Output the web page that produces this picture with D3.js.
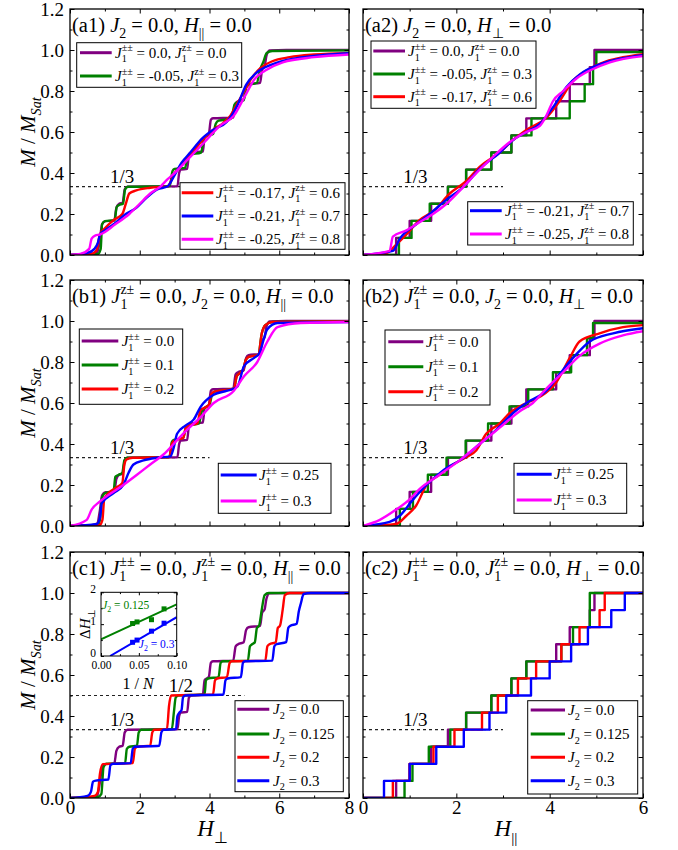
<!DOCTYPE html>
<html>
<head>
<meta charset="utf-8">
<script src="https://cdn.jsdelivr.net/npm/d3@7"></script>
<style>
  body { margin: 0; background: #fff; }
  svg text { font-family: "Liberation Serif", "Times New Roman", serif; white-space: pre; }
</style>
</head>
<body>
<svg id="chart" width="678" height="850"></svg>
<script>
// ---------- tick values ----------
const yMajor = [0, 0.2, 0.4, 0.6, 0.8, 1.0, 1.2];
const yMinor = [0.1, 0.3, 0.5, 0.7, 0.9, 1.1];
const xMajorPerp = [0, 2, 4, 6, 8];
const xMinorPerp = [1, 3, 5, 7];
const xMajorPar = [0, 2, 4, 6];
const xMinorPar = [1, 3, 5];
const plateauThird = 1 / 3;
const plateauHalf = 1 / 2;

// ---------- legend labels ----------
const legendA = [["0.0", "0.0"], ["-0.05", "0.3"], ["-0.17", "0.6"], ["-0.21", "0.7"], ["-0.25", "0.8"]];
const legendB = ["0.0", "0.1", "0.2", "0.25", "0.3"];
const legendC = ["0.0", "0.125", "0.2", "0.3"];

// ---------- magnetization curves [H, M/Msat] ----------
// field perpendicular, all extra couplings zero (purple in a1, b1, c1)
const perpZero = [[0,0],[0.6,0.004],[0.78,0.012],[0.86,0.08],[0.92,0.15],[1.02,0.165],[1.27,0.168],[1.33,0.23],[1.41,0.25],[1.51,0.255],[1.57,0.32],[1.65,0.333],[3.08,0.335],[3.13,0.4],[3.18,0.417],[3.36,0.42],[3.41,0.49],[3.47,0.5],[3.81,0.505],[3.86,0.575],[3.92,0.583],[3.98,0.59],[4.04,0.66],[4.1,0.667],[4.68,0.67],[4.75,0.74],[4.82,0.75],[4.98,0.76],[5.05,0.82],[5.12,0.833],[5.45,0.84],[5.51,0.905],[5.58,0.92],[5.63,0.97],[5.72,0.998],[6.2,1],[8,1]];
// field parallel, all extra couplings zero (purple in a2, b2, c2) : [field of step, new plateau]
const parZero = [[0,0],[0.71,0.0833],[1.0,0.1667],[1.46,0.25],[1.82,0.3333],[2.21,0.4167],[2.75,0.5],[3.18,0.5833],[3.5,0.6667],[4.14,0.75],[4.43,0.8333],[4.86,0.9167],[4.96,1],[6,1]];

// (a1)
const a1Green = [[0,0],[0.8,0.005],[0.88,0.03],[0.92,0.15],[1.0,0.165],[1.28,0.17],[1.34,0.235],[1.42,0.245],[1.52,0.25],[1.58,0.32],[1.66,0.333],[2.86,0.336],[2.94,0.41],[3.0,0.42],[3.3,0.425],[3.37,0.48],[3.44,0.49],[3.76,0.5],[3.84,0.57],[3.92,0.58],[4.1,0.59],[4.18,0.64],[4.26,0.655],[4.62,0.665],[4.72,0.735],[4.8,0.745],[4.98,0.755],[5.06,0.82],[5.14,0.83],[5.36,0.84],[5.44,0.9],[5.54,0.94],[5.64,0.985],[5.8,0.995],[8,0.998]];
const a1Red = [[0,0],[0.6,0.005],[0.75,0.02],[0.86,0.1],[1.0,0.13],[1.25,0.17],[1.5,0.2],[1.6,0.25],[1.7,0.3],[1.9,0.315],[2.3,0.328],[2.8,0.335],[3.0,0.4],[3.15,0.43],[3.4,0.48],[3.6,0.52],[3.85,0.57],[4.1,0.61],[4.4,0.645],[4.6,0.68],[4.8,0.74],[5.0,0.8],[5.2,0.86],[5.45,0.91],[5.8,0.945],[6.3,0.965],[7,0.978],[8,0.985]];
const a1Blue = [[0,0],[0.5,0.01],[0.7,0.03],[0.8,0.06],[0.86,0.1],[1.0,0.12],[1.25,0.15],[1.6,0.2],[1.9,0.23],[2.2,0.28],[2.5,0.32],[2.8,0.335],[3.0,0.39],[3.2,0.45],[3.45,0.5],[3.8,0.57],[4.1,0.61],[4.5,0.65],[4.8,0.73],[5.05,0.83],[5.35,0.89],[5.8,0.93],[6.5,0.96],[7.2,0.975],[8,0.985]];
const a1Magenta = [[0,0],[0.3,0.005],[0.55,0.03],[0.62,0.08],[0.72,0.095],[0.86,0.1],[1.3,0.15],[1.7,0.2],[2.0,0.25],[2.3,0.3],[2.6,0.335],[2.8,0.37],[3.0,0.4],[3.4,0.47],[3.85,0.55],[4.3,0.63],[4.7,0.68],[5.0,0.77],[5.3,0.86],[5.6,0.9],[6.1,0.94],[7,0.965],[8,0.978]];

// (a2)
const a2Green = [[0,0],[0.77,0.0833],[1.04,0.1667],[1.43,0.25],[1.82,0.3333],[2.21,0.4167],[2.75,0.5],[3.18,0.5833],[3.61,0.6667],[4.43,0.75],[4.75,0.8333],[4.93,0.9167],[5.0,0.99],[6,0.99]];
const a2Red = [[0,0],[0.5,0.01],[0.71,0.05],[0.93,0.1],[1.21,0.17],[1.54,0.22],[1.86,0.3],[2.21,0.36],[2.5,0.43],[2.93,0.5],[3.21,0.56],[3.5,0.61],[3.93,0.67],[4.21,0.75],[4.5,0.85],[4.79,0.9],[5.21,0.945],[5.57,0.965],[6,0.98]];
const a2Blue = [[0,0],[0.64,0.02],[0.79,0.08],[1.14,0.15],[1.43,0.2],[1.79,0.27],[2.14,0.33],[2.5,0.42],[2.93,0.5],[3.21,0.56],[3.5,0.6],[3.79,0.64],[4.07,0.72],[4.36,0.82],[4.64,0.88],[5.07,0.93],[5.57,0.96],[6,0.975]];
const a2Magenta = [[0,0],[0.57,0.02],[0.64,0.09],[0.93,0.12],[1.21,0.16],[1.5,0.2],[1.79,0.25],[2.14,0.33],[2.43,0.4],[2.79,0.48],[3.14,0.55],[3.5,0.6],[3.79,0.63],[3.93,0.68],[4.07,0.75],[4.29,0.8],[4.57,0.86],[4.86,0.9],[5.29,0.94],[6,0.97]];

// (b1)
const b1Green = [[0,0],[0.8,0.005],[0.86,0.03],[0.92,0.14],[1.0,0.16],[1.25,0.17],[1.3,0.24],[1.4,0.25],[1.5,0.26],[1.56,0.32],[1.64,0.333],[2.85,0.336],[2.92,0.41],[2.98,0.42],[3.25,0.43],[3.32,0.48],[3.4,0.49],[3.7,0.5],[3.78,0.56],[3.86,0.575],[4.0,0.59],[4.07,0.64],[4.15,0.655],[4.7,0.67],[4.78,0.73],[4.86,0.745],[4.96,0.76],[5.04,0.81],[5.12,0.825],[5.4,0.835],[5.5,0.94],[5.6,0.98],[5.8,0.995],[8,0.998]];
const b1Red = [[0,0],[0.85,0.005],[0.93,0.03],[0.98,0.13],[1.1,0.16],[1.35,0.19],[1.5,0.21],[1.56,0.3],[1.62,0.325],[1.8,0.333],[2.85,0.336],[2.92,0.4],[2.98,0.415],[3.25,0.43],[3.32,0.48],[3.4,0.49],[3.65,0.5],[3.74,0.565],[3.84,0.575],[3.98,0.59],[4.06,0.645],[4.14,0.655],[4.7,0.67],[4.78,0.73],[4.86,0.745],[4.96,0.76],[5.04,0.81],[5.12,0.825],[5.4,0.835],[5.5,0.94],[5.6,0.98],[5.8,0.995],[8,0.998]];
const b1Blue = [[0,0],[0.77,0.01],[0.86,0.04],[0.91,0.11],[1.25,0.16],[1.53,0.2],[1.68,0.26],[1.82,0.3],[2.11,0.32],[2.49,0.333],[2.88,0.34],[2.97,0.38],[3.07,0.45],[3.31,0.49],[3.55,0.52],[3.74,0.58],[4.12,0.64],[4.51,0.66],[4.8,0.68],[4.99,0.78],[5.28,0.82],[5.42,0.84],[5.66,0.96],[5.95,0.99],[8,0.995]];
const b1Magenta = [[0,0],[0.48,0.03],[0.62,0.08],[0.86,0.12],[1.53,0.2],[1.92,0.25],[2.3,0.3],[2.69,0.35],[2.97,0.4],[3.36,0.47],[3.74,0.53],[4.12,0.6],[4.7,0.66],[4.99,0.73],[5.37,0.8],[5.66,0.9],[5.95,0.97],[6.62,0.99],[8,0.995]];

// (b2)
const b2Green = [[0,0],[0.79,0.0833],[1.07,0.1667],[1.39,0.25],[1.79,0.3333],[2.2,0.4167],[2.68,0.5],[3.14,0.5833],[3.54,0.6667],[4.07,0.75],[4.46,0.8333],[4.8,0.9167],[4.93,0.99],[6,0.99]];
const b2Red = [[0,0],[0.71,0.01],[0.93,0.05],[1.14,0.1],[1.36,0.2],[1.64,0.25],[1.93,0.3],[2.21,0.335],[2.43,0.37],[2.64,0.45],[2.93,0.5],[3.14,0.55],[3.5,0.6],[3.79,0.63],[4.14,0.7],[4.43,0.82],[4.64,0.9],[5.07,0.94],[5.57,0.97],[6,0.98]];
const b2Blue = [[0,0],[0.57,0.02],[0.79,0.05],[1.04,0.12],[1.36,0.2],[1.71,0.27],[2.14,0.33],[2.5,0.4],[2.86,0.47],[3.21,0.55],[3.5,0.6],[3.93,0.66],[4.21,0.74],[4.5,0.82],[4.86,0.9],[5.36,0.94],[6,0.965]];
const b2Magenta = [[0,0],[0.36,0.03],[0.71,0.08],[1.0,0.13],[1.21,0.18],[1.64,0.25],[2.07,0.32],[2.5,0.4],[2.93,0.48],[3.36,0.56],[3.64,0.6],[3.93,0.67],[4.29,0.75],[4.64,0.83],[5.07,0.89],[5.57,0.93],[6,0.95]];

// (c1)
const c1Green = [[0,0],[0.8,0.005],[0.9,0.02],[0.96,0.15],[1.04,0.167],[1.58,0.17],[1.63,0.24],[1.7,0.25],[1.92,0.255],[1.97,0.32],[2.04,0.333],[2.92,0.336],[2.98,0.42],[3.03,0.49],[3.1,0.5],[3.86,0.505],[3.9,0.575],[3.96,0.583],[4.26,0.59],[4.32,0.66],[4.38,0.667],[5.1,0.67],[5.16,0.74],[5.22,0.75],[5.3,0.76],[5.36,0.83],[5.42,0.84],[5.5,0.92],[5.58,0.99],[5.7,1],[8,1]];
const c1Red = [[0,0],[0.7,0.01],[0.8,0.03],[0.86,0.12],[0.94,0.165],[1.8,0.17],[1.86,0.24],[1.92,0.25],[2.3,0.255],[2.36,0.32],[2.42,0.333],[2.78,0.336],[2.84,0.45],[2.9,0.5],[4.1,0.505],[4.16,0.575],[4.22,0.583],[4.5,0.59],[4.58,0.66],[4.64,0.667],[5.6,0.67],[5.66,0.74],[5.72,0.75],[5.9,0.76],[5.96,0.83],[6.02,0.84],[6.1,0.92],[6.16,0.99],[6.3,1],[8,1]];
const c1Blue = [[0,0],[0.5,0.01],[0.6,0.03],[0.66,0.08],[0.74,0.085],[1.1,0.09],[1.16,0.16],[1.24,0.167],[1.74,0.17],[1.8,0.24],[1.86,0.25],[2.56,0.255],[2.62,0.32],[2.68,0.333],[3.04,0.336],[3.08,0.4],[3.14,0.417],[3.2,0.43],[3.24,0.49],[3.3,0.5],[4.4,0.505],[4.46,0.575],[4.52,0.583],[4.9,0.59],[4.96,0.66],[5.02,0.667],[5.8,0.67],[5.86,0.74],[5.92,0.75],[6.2,0.76],[6.26,0.83],[6.32,0.84],[6.5,0.85],[6.56,0.91],[6.62,0.95],[6.7,0.995],[6.9,1],[8,1]];

// (c2) : [field of step, new plateau]
const c2Green = [[0,0],[0.89,0.0833],[1.06,0.1667],[1.41,0.25],[1.87,0.3333],[2.21,0.4167],[2.75,0.5],[3.18,0.5833],[3.5,0.6667],[4.25,0.75],[4.5,0.8333],[4.86,1],[6,1]];
const c2Red = [[0,0],[0.64,0.0833],[1.0,0.1667],[1.51,0.25],[1.96,0.3333],[2.55,0.4167],[2.89,0.5],[3.32,0.5833],[3.71,0.6667],[4.25,0.75],[4.64,0.8333],[5.07,0.9167],[5.18,1],[6,1]];
const c2Blue = [[0,0],[0.45,0.0833],[1.0,0.1667],[1.57,0.25],[2.16,0.3333],[2.71,0.4167],[3.07,0.5],[3.6,0.5833],[4.0,0.6667],[4.46,0.75],[4.82,0.8333],[5.32,0.9167],[5.61,1],[6,1]];

// inset: finite-size gap versus 1/N
const invN = [0.0417, 0.0476, 0.0667, 0.0833];
const gapJ2a = [1.02, 1.07, 1.14, 1.48];   // J2 = 0.125
const gapJ2b = [0.43, 0.50, 0.78, 1.03];   // J2 = 0.3
const fitJ2a = [[0, 0.52], [0.1, 1.62]];
const fitJ2b = [[0.012, 0], [0.1, 1.22]];
const insetXTicks = [0, 0.05, 0.1];
const insetXMinor = [0.025, 0.075];
const insetYTicks = [0, 1, 2];
const insetYMinor = [0.5, 1.5];

// ---------- colours ----------
const PURPLE = "#800080", GREEN = "#008000", RED = "#ff0000", BLUE = "#0000ff", MAGENTA = "#ff00ff";

// ---------- rich text helpers ----------
function rich(sel, parts, fs) {
  let shift = 0;
  parts.forEach(p => {
    const t = sel.append("tspan").text(p.t);
    let target = 0, size = fs;
    if (p.sub) { target = 0.3 * fs; size = 0.68 * fs; }
    if (p.sup) { target = -0.42 * fs; size = 0.68 * fs; }
    const dy = target - shift;
    if (dy) t.attr("dy", dy);
    t.attr("font-size", size);
    if (p.dx) t.attr("dx", p.dx * fs);
    if (p.i) t.attr("font-style", "italic");
    shift = target;
  });
}
const T = s => [{ t: s }];
const J1pm = () => [{ t: "J", i: 1 }, { t: "1", sub: 1 }, { t: "±±", sup: 1, dx: -0.34 }];
const J1zpm = () => [{ t: "J", i: 1 }, { t: "1", sub: 1 }, { t: "z±", sup: 1, dx: -0.34 }];
const J2 = () => [{ t: "J", i: 1 }, { t: "2", sub: 1 }];
const Hpar = () => [{ t: "H", i: 1 }, { t: "||", sub: 1 }];
const Hperp = () => [{ t: "H", i: 1 }, { t: "⊥", sub: 1 }];

const labA = legendA.map(([a, b]) => [...J1pm(), ...T(` = ${a}, `), ...J1zpm(), ...T(` = ${b}`)]);
const labB = legendB.map(a => [...J1pm(), ...T(` = ${a}`)]);
const labC = legendC.map(a => [...J2(), ...T(` = ${a}`)]);

// ---------- layout ----------
const cols = [{ x0: 70, x1: 349, xMax: 8, major: xMajorPerp, minor: xMinorPerp },
              { x0: 363, x1: 643, xMax: 6, major: xMajorPar, minor: xMinorPar }];
const rows = [{ y0: 9, y1: 255 }, { y0: 280, y1: 526 }, { y0: 552, y1: 798 }];

const panels = [
  { id: "a1", col: 0, row: 0,
    title: [...T("(a1) "), ...J2(), ...T(" = 0.0, "), ...Hpar(), ...T(" = 0.0")],
    series: [perpZero, a1Green, a1Red, a1Blue, a1Magenta], steps: [0, 0, 0, 0, 0],
    colors: [PURPLE, GREEN, RED, BLUE, MAGENTA], labels: labA,
    dashed: [[plateauThird, 4]], fracs: [["1/3", 1.15, plateauThird]],
    legends: [{ box: [76.7, 42.7, 165, 44.6], items: [0, 1], ys: [52.7, 76], lx: [80, 111.7], tx: 115 },
              { box: [180, 182.7, 165, 66.6], items: [2, 3, 4], ys: [192.7, 216, 239.3], lx: [181.7, 213.3], tx: 216 }] },
  { id: "a2", col: 1, row: 0,
    title: [...T("(a2) "), ...J2(), ...T(" = 0.0, "), ...Hperp(), ...T(" = 0.0")],
    series: [parZero, a2Green, a2Red, a2Blue, a2Magenta], steps: [1, 1, 0, 0, 0],
    colors: [PURPLE, GREEN, RED, BLUE, MAGENTA], labels: labA,
    dashed: [[plateauThird, 3]], fracs: [["1/3", 0.86, plateauThird]],
    legends: [{ box: [371, 41, 165, 67.3], items: [0, 1, 2], ys: [51, 74, 96.7], lx: [373.3, 405], tx: 408 },
              { box: [467.7, 201.7, 165.6, 43.3], items: [3, 4], ys: [210.7, 234], lx: [470, 501.7], tx: 505 }] },
  { id: "b1", col: 0, row: 1,
    title: [...T("(b1) "), ...J1zpm(), ...T(" = 0.0, "), ...J2(), ...T(" = 0.0, "), ...Hpar(), ...T(" = 0.0")],
    series: [perpZero, b1Green, b1Red, b1Blue, b1Magenta], steps: [0, 0, 0, 0, 0],
    colors: [PURPLE, GREEN, RED, BLUE, MAGENTA], labels: labB,
    dashed: [[plateauThird, 4]], fracs: [["1/3", 1.15, plateauThird]],
    legends: [{ box: [79.3, 329, 103.4, 75.3], items: [0, 1, 2], ys: [341, 365, 389], lx: [81.7, 118.3], tx: 121.7 },
              { box: [218.3, 463.3, 112.7, 50], items: [3, 4], ys: [475, 501], lx: [220.7, 256.7], tx: 259 }] },
  { id: "b2", col: 1, row: 1,
    title: [...T("(b2) "), ...J1zpm(), ...T(" = 0.0, "), ...J2(), ...T(" = 0.0, "), ...Hperp(), ...T(" = 0.0")],
    series: [parZero, b2Green, b2Red, b2Blue, b2Magenta], steps: [1, 1, 0, 0, 0],
    colors: [PURPLE, GREEN, RED, BLUE, MAGENTA], labels: labB,
    dashed: [[plateauThird, 3]], fracs: [["1/3", 0.86, plateauThird]],
    legends: [{ box: [385, 330, 105, 75], items: [0, 1, 2], ys: [341.7, 366.7, 391.7], lx: [388.3, 423.3], tx: 426 },
              { box: [514, 463.3, 112.7, 50], items: [3, 4], ys: [474.3, 500], lx: [516.7, 551.7], tx: 554 }] },
  { id: "c1", col: 0, row: 2,
    title: [...T("(c1) "), ...J1pm(), ...T(" = 0.0, "), ...J1zpm(), ...T(" = 0.0, "), ...Hpar(), ...T(" = 0.0")],
    series: [perpZero, c1Green, c1Red, c1Blue], steps: [0, 0, 0, 0],
    colors: [PURPLE, GREEN, RED, BLUE], labels: labC,
    dashed: [[plateauThird, 4], [plateauHalf, 5]], fracs: [["1/3", 1.15, plateauThird], ["1/2", 2.83, plateauHalf]],
    legends: [{ box: [235, 700.7, 108.3, 91], items: [0, 1, 2, 3], ys: [709.3, 734, 757.3, 780.7], lx: [237.3, 269.3], tx: 273 }],
    inset: true },
  { id: "c2", col: 1, row: 2,
    title: [...T("(c2) "), ...J1pm(), ...T(" = 0.0, "), ...J1zpm(), ...T(" = 0.0, "), ...Hperp(), ...T(" = 0.0")],
    series: [parZero, c2Green, c2Red, c2Blue], steps: [1, 1, 1, 1],
    colors: [PURPLE, GREEN, RED, BLUE], labels: labC,
    dashed: [[plateauThird, 3]], fracs: [["1/3", 0.86, plateauThird]],
    legends: [{ box: [527.7, 700.7, 110, 93.3], items: [0, 1, 2, 3], ys: [710, 734, 757.3, 780.7], lx: [530.7, 565], tx: 568 }] }
];

const svg = d3.select("#chart");
const defs = svg.append("defs");

function styleAxis(sel, fs) {
  sel.select(".domain").remove();
  sel.selectAll("line").attr("stroke", "#000").attr("stroke-width", 1);
  sel.selectAll("text").attr("font-family", '"Liberation Serif", "Times New Roman", serif')
    .attr("font-size", fs).attr("fill", "#000");
}

function drawAxes(g, x, y, xMajor, xMinor, yMaj, yMin, showX, showY, opt) {
  const L = opt.len, l = opt.minorLen, fs = opt.fs;
  const [x0, x1] = x.range(), [y1, y0] = y.range();
  const none = () => "";
  const left = g.append("g").attr("transform", `translate(${x0},0)`)
    .call(d3.axisLeft(y).tickValues(yMaj).tickSize(-L).tickPadding(opt.padY).tickFormat(showY ? opt.fmtY : none)).call(s => styleAxis(s, fs));
  if (opt.dyY) left.selectAll("text").attr("dy", opt.dyY);
  g.append("g").attr("transform", `translate(${x0},0)`)
    .call(d3.axisLeft(y).tickValues(yMin).tickSize(-l).tickFormat(none)).call(s => styleAxis(s, fs));
  g.append("g").attr("transform", `translate(${x1},0)`)
    .call(d3.axisRight(y).tickValues(yMaj).tickSize(-L).tickFormat(none)).call(s => styleAxis(s, fs));
  g.append("g").attr("transform", `translate(${x1},0)`)
    .call(d3.axisRight(y).tickValues(yMin).tickSize(-l).tickFormat(none)).call(s => styleAxis(s, fs));
  g.append("g").attr("transform", `translate(0,${y1})`)
    .call(d3.axisBottom(x).tickValues(xMajor).tickSize(-L).tickPadding(opt.padX).tickFormat(showX ? opt.fmtX : none)).call(s => styleAxis(s, fs));
  g.append("g").attr("transform", `translate(0,${y1})`)
    .call(d3.axisBottom(x).tickValues(xMinor).tickSize(-l).tickFormat(none)).call(s => styleAxis(s, fs));
  g.append("g").attr("transform", `translate(0,${y0})`)
    .call(d3.axisTop(x).tickValues(xMajor).tickSize(-L).tickFormat(none)).call(s => styleAxis(s, fs));
  g.append("g").attr("transform", `translate(0,${y0})`)
    .call(d3.axisTop(x).tickValues(xMinor).tickSize(-l).tickFormat(none)).call(s => styleAxis(s, fs));
  g.append("rect").attr("x", x0).attr("y", y0).attr("width", x1 - x0).attr("height", y1 - y0)
    .attr("fill", "none").attr("stroke", "#000").attr("stroke-width", opt.frame);
}

panels.forEach(p => {
  const c = cols[p.col], r = rows[p.row];
  const x = d3.scaleLinear().domain([0, c.xMax]).range([c.x0, c.x1]);
  const y = d3.scaleLinear().domain([0, 1.2]).range([r.y1, r.y0]);
  const g = svg.append("g").attr("class", "panel-" + p.id);

  const clipId = "clip-" + p.id;
  defs.append("clipPath").attr("id", clipId).append("rect")
    .attr("x", c.x0).attr("y", r.y0).attr("width", c.x1 - c.x0).attr("height", r.y1 - r.y0);

  // dashed plateau guides
  p.dashed.forEach(([m, hEnd]) => {
    g.append("line").attr("x1", x(0)).attr("x2", x(hEnd)).attr("y1", y(m)).attr("y2", y(m))
      .attr("stroke", "#222").attr("stroke-width", 1.1).attr("stroke-dasharray", "3,3");
  });
  p.fracs.forEach(([t, h, m]) => {
    g.append("text").attr("x", x(h)).attr("y", y(m) - 4).attr("font-size", 19).text(t);
  });

  // curves
  const smooth = d3.line().x(d => x(d[0])).y(d => y(d[1])).curve(d3.curveMonotoneX);
  const stair = d3.line().x(d => x(d[0])).y(d => y(d[1])).curve(d3.curveStepAfter);
  const cg = g.append("g").attr("clip-path", `url(#${clipId})`);
  p.series.forEach((s, i) => {
    cg.append("path").attr("d", (p.steps[i] ? stair : smooth)(s))
      .attr("fill", "none").attr("stroke", p.colors[i]).attr("stroke-width", 2.4)
      .attr("stroke-linejoin", "round");
  });

  // axes and frame
  drawAxes(g, x, y, c.major, c.minor, yMajor, yMinor, p.row === 2, p.col === 0,
    { len: 4.5, minorLen: 2.5, fs: 19, padY: 6, padX: 2, frame: 1.3,
      fmtY: d3.format(".1f"), fmtX: d3.format("d") });

  // title
  const tt = g.append("text").attr("x", c.x0 + 2).attr("y", r.y0 + 23);
  rich(tt, p.title, 20.5);

  // legends
  p.legends.forEach(L => {
    g.append("rect").attr("x", L.box[0]).attr("y", L.box[1]).attr("width", L.box[2]).attr("height", L.box[3])
      .attr("fill", "#fff").attr("stroke", "#000").attr("stroke-width", 1);
    L.items.forEach((k, j) => {
      g.append("line").attr("x1", L.lx[0]).attr("x2", L.lx[1]).attr("y1", L.ys[j]).attr("y2", L.ys[j])
        .attr("stroke", p.colors[k]).attr("stroke-width", 3);
      const lt = g.append("text").attr("x", L.tx).attr("y", L.ys[j] + 5);
      rich(lt, p.labels[k], 15);
    });
  });

  // y title
  if (p.col === 0) {
    const yt = g.append("text").attr("transform", `translate(35,${(r.y0 + r.y1) / 2}) rotate(-90)`)
      .attr("text-anchor", "middle");
    rich(yt, [{ t: "M", i: 1 }, { t: " / " }, { t: "M", i: 1 }, { t: "Sat", sub: 1, i: 1 }], 21);
  }
  // x title
  if (p.row === 2) {
    const xt = g.append("text").attr("x", (c.x0 + c.x1) / 2 + 3).attr("y", 836).attr("text-anchor", "middle");
    rich(xt, p.col === 0 ? Hperp() : Hpar(), 23);
  }

  if (p.inset) drawInset(g);
});

function drawInset(g) {
  const ix = d3.scaleLinear().domain([0, 0.1]).range([101, 176.7]);
  const iy = d3.scaleLinear().domain([0, 2]).range([656, 592.3]);
  g.append("rect").attr("x", 101).attr("y", 592.3).attr("width", 75.7).attr("height", 63.7).attr("fill", "#fff");
  const ln = d3.line().x(d => ix(d[0])).y(d => iy(d[1]));
  defs.append("clipPath").attr("id", "clip-inset").append("rect").attr("x", 101).attr("y", 592.3).attr("width", 75.7).attr("height", 63.7);
  const ig = g.append("g").attr("clip-path", "url(#clip-inset)");
  ig.append("path").attr("d", ln(fitJ2a)).attr("stroke", GREEN).attr("stroke-width", 2).attr("fill", "none");
  ig.append("path").attr("d", ln(fitJ2b)).attr("stroke", BLUE).attr("stroke-width", 2).attr("fill", "none");
  const sq = 5;
  ig.selectAll("rect.ga").data(invN.map((v, i) => [v, gapJ2a[i]])).join("rect")
    .attr("x", d => ix(d[0]) - sq / 2).attr("y", d => iy(d[1]) - sq / 2).attr("width", sq).attr("height", sq).attr("fill", GREEN);
  ig.selectAll("rect.gb").data(invN.map((v, i) => [v, gapJ2b[i]])).join("rect")
    .attr("x", d => ix(d[0]) - sq / 2).attr("y", d => iy(d[1]) - sq / 2).attr("width", sq).attr("height", sq).attr("fill", BLUE);

  drawAxes(g, ix, iy, insetXTicks, insetXMinor, insetYTicks, insetYMinor, true, true,
    { len: 3, minorLen: 1.8, fs: 11.5, padY: 5, padX: 5, frame: 1, dyY: "0.05em",
      fmtY: d3.format("d"), fmtX: d3.format(".2f") });

  const ta = g.append("text").attr("x", ix(0.0015)).attr("y", 609).attr("fill", GREEN);
  rich(ta, [...J2(), ...T(" = 0.125")], 11.5);
  const tb = g.append("text").attr("x", ix(0.05)).attr("y", 648).attr("fill", BLUE);
  rich(tb, [...J2(), ...T(" = 0.3")], 11.5);

  const yl = g.append("text").attr("transform", `translate(90,${(592.3 + 656) / 2}) rotate(-90)`).attr("text-anchor", "middle");
  rich(yl, [{ t: "Δ" }, ...Hperp()], 15);
  const xl = g.append("text").attr("x", 138).attr("y", 689).attr("text-anchor", "middle").attr("font-size", 16);
  rich(xl, [{ t: "1 / " }, { t: "N", i: 1 }], 16);
}
</script>
</body>
</html>
